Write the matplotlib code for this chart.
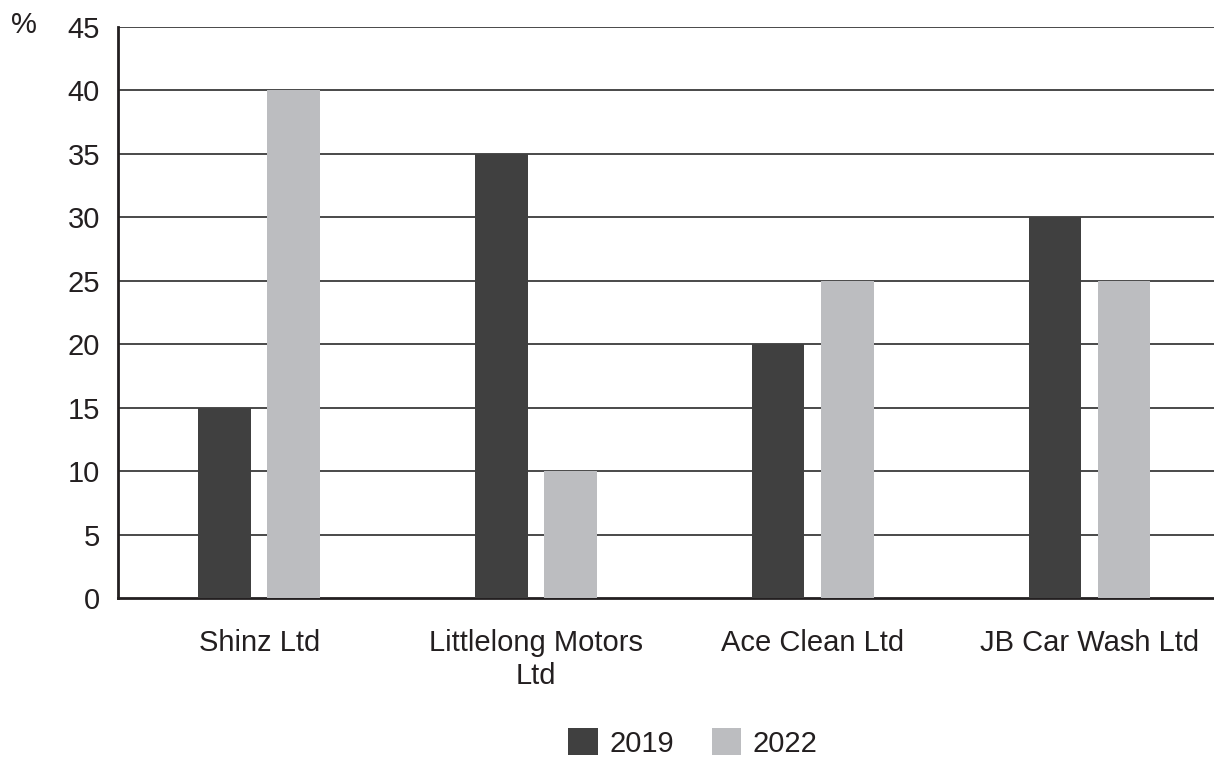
import matplotlib
matplotlib.use("Agg")
import matplotlib.pyplot as plt
import numpy as np

# data
companies = ["Shinz Ltd", "Littlelong Motors\nLtd", "Ace Clean Ltd", "JB Car Wash Ltd"]
years = ["2019", "2022"]
share_2019 = [15, 35, 20, 30]
share_2022 = [40, 10, 25, 25]
y_ticks = [0, 5, 10, 15, 20, 25, 30, 35, 40, 45]

plt.rcParams['font.family'] = ['Liberation Sans', 'DejaVu Sans']

fig = plt.figure(figsize=(12.14, 7.6), dpi=100)
ax = fig.add_axes([118/1214, 1 - 598/760, (1214 - 118)/1214, (598 - 27)/760])

x = np.arange(len(companies))
w = 0.19
ax.bar(x - 0.125, share_2019, w, color="#404040", label=years[0], zorder=3)
ax.bar(x + 0.125, share_2022, w, color="#bcbdc0", label=years[1], zorder=3)

ax.set_ylim(0, 45)
ax.set_xlim(-0.51, 3.45)
ax.set_yticks(y_ticks)
ax.set_yticklabels([str(t) for t in y_ticks], fontsize=21, color="#231f20")
ax.set_xticks(x)
ax.set_xticklabels(companies, fontsize=21, color="#231f20", linespacing=1.25)
ax.tick_params(axis="both", length=0)
ax.tick_params(axis="y", pad=13)
ax.tick_params(axis="x", pad=22)

for t in y_ticks[1:]:
    ax.axhline(t, color="#3a3a3a", linewidth=1.3, zorder=1)

for s in ["top", "right"]:
    ax.spines[s].set_visible(False)
ax.spines["left"].set_linewidth(2)
ax.spines["bottom"].set_linewidth(2)
ax.spines["left"].set_color("#231f20")
ax.spines["bottom"].set_color("#231f20")

fig.text(24/1214, 1 - 25/760, "%", fontsize=21, color="#231f20", va="center", ha="center")

fig.legend(loc="center", bbox_to_anchor=(693/1214, 1 - 743/760), ncol=2, frameon=False,
           fontsize=21, handlelength=1.0, handleheight=1.0, handletextpad=0.4,
           columnspacing=1.3, labelcolor="#231f20", borderpad=0.2)

fig.savefig("out.png", dpi=100)
